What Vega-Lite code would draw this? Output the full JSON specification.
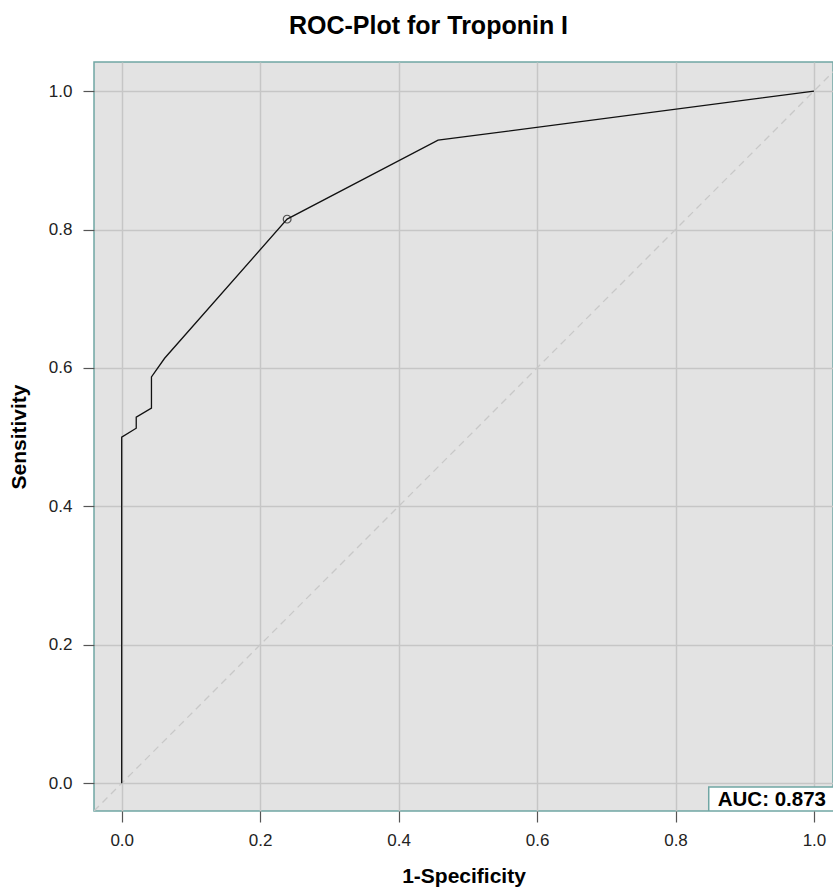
{
  "$schema": "https://vega.github.io/schema/vega-lite/v6.json",
  "autosize": {"type": "none"},
  "padding": {"left": 94, "top": 62, "right": 0, "bottom": 76},
  "width": 739,
  "height": 749,
  "background": "white",
  "title": {
    "text": "ROC-Plot for Troponin I",
    "font": "Liberation Sans",
    "fontSize": 25,
    "fontWeight": "bold",
    "color": "#000000",
    "anchor": "middle",
    "dx": -35,
    "offset": 23
  },
  "config": {
    "view": {"fill": "#e3e3e3", "stroke": "#70a6a4", "strokeWidth": 1.5},
    "axis": {
      "domain": false,
      "grid": true,
      "gridColor": "#c6c6c6",
      "gridWidth": 1.5,
      "tickColor": "#555555",
      "tickSize": 11,
      "tickWidth": 1.2,
      "labelFont": "Liberation Sans",
      "labelFontSize": 17,
      "labelColor": "#222222",
      "titleFont": "Liberation Sans",
      "titleFontSize": 21,
      "titleFontWeight": "bold",
      "titleColor": "#000000"
    }
  },
  "layer": [
    {
      "data": {"values": [{"x": -0.04, "y": -0.04}, {"x": 1.04, "y": 1.04}]},
      "mark": {"type": "line", "color": "#c8c8c8", "strokeWidth": 1.3, "strokeDash": [7, 5], "clip": true},
      "encoding": {
        "x": {"field": "x", "type": "quantitative", "scale": {"domain": [-0.04, 1.0275], "nice": false, "zero": false},
              "axis": {"values": [0, 0.2, 0.4, 0.6, 0.8, 1.0], "format": ".1f", "title": "1-Specificity", "labelPadding": 10, "titlePadding": 17}},
        "y": {"field": "y", "type": "quantitative", "scale": {"domain": [-0.04, 1.042], "nice": false, "zero": false},
              "axis": {"values": [0, 0.2, 0.4, 0.6, 0.8, 1.0], "format": ".1f", "title": "Sensitivity", "labelPadding": 11, "titlePadding": 19}}
      }
    },
    {
      "data": {"values": [
        {"fpr": 0, "tpr": 0, "o": 1},
        {"fpr": 0, "tpr": 0.5, "o": 2},
        {"fpr": 0.021, "tpr": 0.513, "o": 3},
        {"fpr": 0.021, "tpr": 0.529, "o": 4},
        {"fpr": 0.043, "tpr": 0.542, "o": 5},
        {"fpr": 0.043, "tpr": 0.587, "o": 6},
        {"fpr": 0.062, "tpr": 0.614, "o": 7},
        {"fpr": 0.239, "tpr": 0.815, "o": 8},
        {"fpr": 0.457, "tpr": 0.929, "o": 9},
        {"fpr": 1, "tpr": 1, "o": 10}
      ]},
      "mark": {"type": "line", "color": "#111111", "strokeWidth": 1.3, "clip": true},
      "encoding": {
        "x": {"field": "fpr", "type": "quantitative"},
        "y": {"field": "tpr", "type": "quantitative"},
        "order": {"field": "o", "type": "quantitative"}
      }
    },
    {
      "data": {"values": [{"fpr": 0.239, "tpr": 0.815}]},
      "mark": {"type": "point", "shape": "circle", "filled": false, "color": "#111111", "size": 60, "strokeWidth": 1.2},
      "encoding": {
        "x": {"field": "fpr", "type": "quantitative"},
        "y": {"field": "tpr", "type": "quantitative"}
      }
    },
    {
      "data": {"values": [{"x": 0.848, "x2": 1.2, "y": -0.04, "y2": -0.0055, "label": "AUC: 0.873", "tx": 0.861, "ty": -0.033}]},
      "layer": [
        {
          "mark": {"type": "rect", "fill": "white", "stroke": "#70a6a4", "strokeWidth": 1.5, "clip": true},
          "encoding": {
            "x": {"field": "x", "type": "quantitative"},
            "x2": {"field": "x2"},
            "y": {"field": "y", "type": "quantitative"},
            "y2": {"field": "y2"}
          }
        },
        {
          "mark": {"type": "text", "align": "left", "baseline": "alphabetic", "font": "Liberation Sans", "fontSize": 20.5, "fontWeight": "bold", "color": "#000000", "clip": true},
          "encoding": {
            "x": {"field": "tx", "type": "quantitative"},
            "y": {"field": "ty", "type": "quantitative"},
            "text": {"field": "label"}
          }
        }
      ]
    }
  ]
}
